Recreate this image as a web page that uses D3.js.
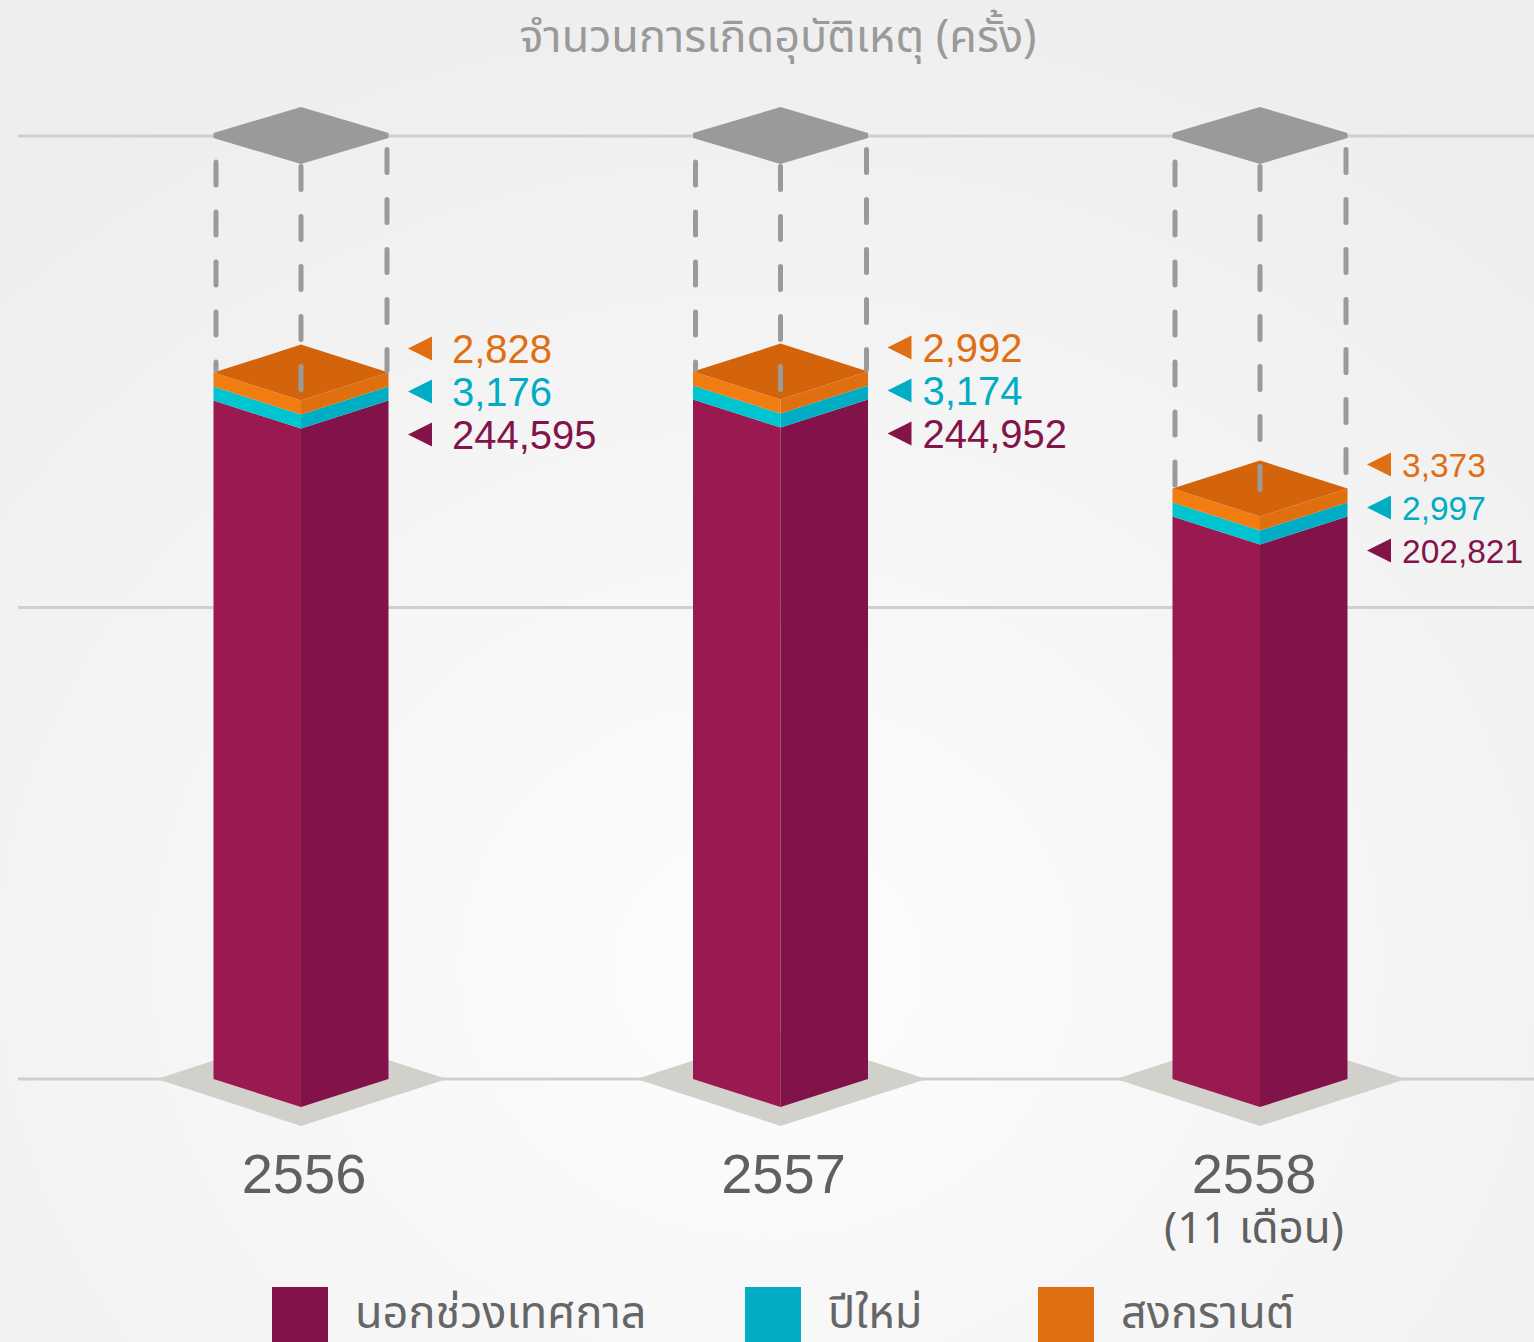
<!DOCTYPE html>
<html>
<head>
<meta charset="utf-8">
<script src="https://cdnjs.cloudflare.com/ajax/libs/d3/7.8.5/d3.min.js"></script>
<style>
  body { margin: 0; background: #f4f4f4; }
  svg { display: block; }
  .num { font-family: "Liberation Sans", Arial, sans-serif; }
  .thai { font-family: "Noto Sans Thai", "Noto Sans", "DejaVu Sans", sans-serif; }
</style>
</head>
<body>
<svg width="1534" height="1342"></svg>
<script>
// data
var years = ['2556', '2557', '2558'];
var yearNotes = ['', '', '(11 เดือน)'];
var normalDays = [244595, 244952, 202821];
var newYear = [3176, 3174, 2997];
var songkran = [2828, 2992, 3373];
var seriesNames = ['นอกช่วงเทศกาล', 'ปีใหม่', 'สงกรานต์'];
var gridTicks = [0, 170000, 340000];
var title = 'จำนวนการเกิดอุบัติเหตุ (ครั้ง)';

var legendColors = ['#83144a', '#00adc4', '#e06e12'];
var textColors = ['#83144a', '#00adc4', '#e06e12'];
// left face, right face, top face
var faceColors = [
    ['#9a1950', '#82134a', '#82134a'],
    ['#00c4d0', '#00adc4', '#00adc4'],
    ['#f07c12', '#e0700f', '#d4640c']
];

var svg = d3.select('svg');

// **** background ****
var defs = svg.append('defs');
var grad = defs.append('radialGradient')
    .attr('id', 'bg')
    .attr('cx', '50%').attr('cy', '72%').attr('r', '75%');
grad.append('stop').attr('offset', '0%').attr('stop-color', '#fdfdfd');
grad.append('stop').attr('offset', '100%').attr('stop-color', '#eeeeee');

svg.append('rect')
    .attr('width', 1534).attr('height', 1342)
    .attr('fill', 'url(#bg)');

// **** scales ****
var xScale = d3.scalePoint().domain(years).range([301, 1260]);
var yScale = d3.scaleLinear().domain([0, 340000]).range([1079, 136]);

var halfW = 87.5;    // half width of a prism
var depth = 28;      // half height of the top diamond
var layerH = 14;     // festival layers are drawn with a fixed thickness

function pts(a) {
    return a.map(function(p) { return p[0] + ',' + p[1]; }).join(' ');
}

// **** gridlines ****
svg.append('g').selectAll('line')
    .data(gridTicks)
    .enter()
    .append('line')
    .attr('x1', 18).attr('x2', 1534)
    .attr('y1', function(d) { return yScale(d); })
    .attr('y2', function(d) { return yScale(d); })
    .attr('stroke', '#cfcfcf')
    .attr('stroke-width', 3);

// **** title ****
svg.append('text')
    .attr('class', 'thai')
    .attr('x', 778).attr('y', 52)
    .attr('text-anchor', 'middle')
    .attr('font-size', 45)
    .attr('fill', '#9a9a9a')
    .text(title);

// stacked segments per year: [bottom y, top y] in px
var stacks = years.map(function(yr, i) {
    var base = yScale(0);
    var top0 = yScale(normalDays[i]);
    var top1 = top0 - layerH;
    var top2 = top1 - layerH;
    return { year: yr, i: i, cx: xScale(yr), segs: [[base, top0], [top0, top1], [top1, top2]] };
});

var holder = svg.append('g').selectAll('g')
    .data(stacks)
    .enter()
    .append('g');

// floor shadow
holder.append('polygon')
    .attr('points', function(d) {
        var b = yScale(0);
        return pts([[d.cx - 144, b], [d.cx, b - 47], [d.cx + 146, b], [d.cx, b + 47]]);
    })
    .attr('fill', '#d1d0ca');

// gray top slab at max of the axis
holder.append('polygon')
    .attr('points', function(d) {
        var t = yScale(gridTicks[2]);
        return pts([[d.cx - halfW, t - 3], [d.cx, t - 29], [d.cx + halfW, t - 3],
                    [d.cx + halfW, t + 2], [d.cx, t + depth], [d.cx - halfW, t + 2]]);
    })
    .attr('fill', '#9a9a9a');

// prism faces
holder.each(function(d) {
    var g = d3.select(this);
    d.segs.forEach(function(s, k) {
        var yb = s[0], yt = s[1];
        g.append('polygon')
            .attr('points', pts([[d.cx - halfW, yt], [d.cx, yt + depth], [d.cx, yb + depth], [d.cx - halfW, yb]]))
            .attr('fill', faceColors[k][0]);
        g.append('polygon')
            .attr('points', pts([[d.cx, yt + depth], [d.cx + halfW, yt], [d.cx + halfW, yb], [d.cx, yb + depth]]))
            .attr('fill', faceColors[k][1]);
    });
    var top = d.segs[2][1];
    g.append('polygon')
        .attr('points', pts([[d.cx - halfW, top], [d.cx, top - depth], [d.cx + halfW, top], [d.cx, top + depth]]))
        .attr('fill', faceColors[2][2]);
});

// dashed outline up to the slab
var dashLines = [
    { dx: -85, start: 162, end: function(t) { return t; } },
    { dx: 0, start: 166.5, end: function(t) { return t + depth; } },
    { dx: 86, start: 149.5, end: function(t) { return t; } }
];
holder.each(function(d) {
    var g = d3.select(this);
    var top = d.segs[2][1];
    dashLines.forEach(function(l) {
        g.append('line')
            .attr('x1', d.cx + l.dx).attr('x2', d.cx + l.dx)
            .attr('y1', l.start).attr('y2', l.end(top) - 2)
            .attr('stroke', '#9a9a9a')
            .attr('stroke-width', 5)
            .attr('stroke-linecap', 'round')
            .attr('stroke-dasharray', '23 27');
    });
});

// value labels with arrows
holder.each(function(d) {
    var g = d3.select(this);
    var top = d.segs[2][1]; // orange side top
    var vals = [songkran[d.i], newYear[d.i], normalDays[d.i]];
    var cols = [textColors[2], textColors[1], textColors[0]];
    var size = d.i === 2 ? 33.5 : 40;
    var tx = d.i === 0 ? 151 : 142;
    vals.forEach(function(v, k) {
        var cy = top - 24 + k * 43;
        g.append('polygon')
            .attr('points', pts([[d.cx + 107, cy], [d.cx + 131, cy - 12], [d.cx + 131, cy + 12]]))
            .attr('fill', cols[k]);
        g.append('text')
            .attr('class', 'num')
            .attr('x', d.cx + tx)
            .attr('y', cy)
            .attr('dy', '0.36em')
            .attr('font-size', size)
            .attr('fill', cols[k])
            .text(d3.format(',')(v));
    });
});

// year labels
holder.append('text')
    .attr('class', 'num')
    .attr('x', function(d) { return d.i === 2 ? d.cx - 6 : d.cx + 3; })
    .attr('y', 1193)
    .attr('text-anchor', 'middle')
    .attr('font-size', 56)
    .attr('fill', '#606060')
    .text(function(d) { return d.year; });

holder.append('text')
    .attr('class', 'thai')
    .attr('x', function(d) { return d.cx - 6; })
    .attr('y', 1243)
    .attr('text-anchor', 'middle')
    .attr('font-size', 44)
    .attr('fill', '#606060')
    .text(function(d) { return yearNotes[d.i]; });

// **** legend ****
var legendX = [272, 745, 1038];
var legend = svg.append('g').selectAll('g')
    .data(seriesNames)
    .enter()
    .append('g');

legend.append('rect')
    .attr('x', function(d, i) { return legendX[i]; })
    .attr('y', 1287)
    .attr('width', 56).attr('height', 60)
    .attr('fill', function(d, i) { return legendColors[i]; });

legend.append('text')
    .attr('class', 'thai')
    .attr('x', function(d, i) { return legendX[i] + 83; })
    .attr('y', 1328)
    .attr('font-size', 45)
    .attr('fill', '#666')
    .text(function(d) { return d; });
</script>
</body>
</html>
